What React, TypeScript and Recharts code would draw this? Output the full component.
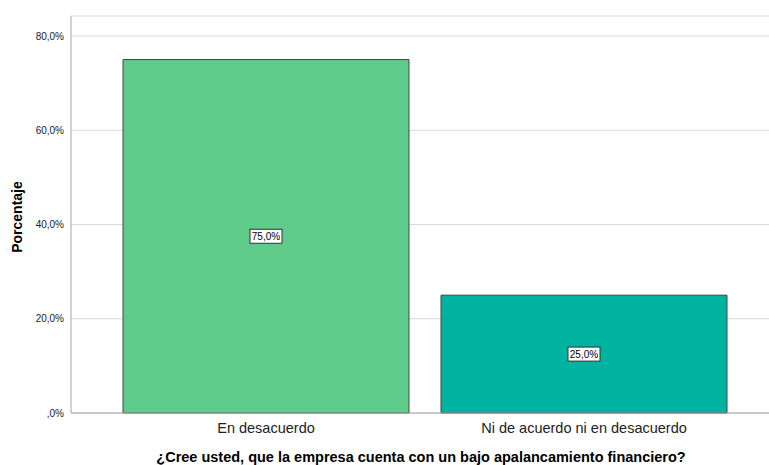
import React from 'react';
import { BarChart, Bar, XAxis, YAxis, CartesianGrid, LabelList, Cell } from 'recharts';

const categories = ['En desacuerdo', 'Ni de acuerdo ni en desacuerdo'];
const percentages = [75.0, 25.0];
const barColors = ['#5ecb8b', '#00b3a0'];
const yTicks = [0, 20, 40, 60, 80];
const yAxisTitle = 'Porcentaje';
const xAxisTitle = '¿Cree usted, que la empresa cuenta con un bajo apalancamiento financiero?';

const data = categories.map((c, i) => ({ name: c, value: percentages[i] }));

const fmt = (v: number) => {
  const s = v.toFixed(1).replace('.', ',');
  return (s.startsWith('0,') ? s.slice(1) : s) + '%';
};

const FONT = '"Liberation Sans", Arial, sans-serif';

const BarValueLabel = (props: any) => {
  const { x, y, width, height, value } = props;
  const cx = x + width / 2;
  const cy = y + height / 2;
  const text = fmt(value);
  const w = text.length * 5.6 + 4;
  const h = 14;
  return (
    <g>
      <rect x={cx - w / 2} y={cy - h / 2} width={w} height={h} fill="#ffffff" stroke="#333333" strokeWidth={1} />
      <text x={cx} y={cy + 3.5} textAnchor="middle" fontSize={10} fontFamily={FONT} fill="#000">{text}</text>
    </g>
  );
};

export default function App() {
  return (
    <div style={{ position: 'absolute', left: 0, top: 0, width: 769, height: 465, background: '#fff' }}>
      <BarChart
        width={769}
        height={465}
        data={data}
        margin={{ top: 16, right: 0, left: 0, bottom: 0 }}
        barCategoryGap={16}
      >
        <CartesianGrid vertical={false} stroke="#d9d9d9" />
        <XAxis
          dataKey="name"
          height={52}
          padding={{ left: 36, right: 26 }}
          tickLine={false}
          tickSize={0}
          tickMargin={10}
          stroke="#a6a6a6"
          tick={{ fontSize: 14.5, fill: '#222', fontFamily: FONT }}
          label={{
            content: () => (
              <text x={421} y={462} textAnchor="middle" fontSize={14.5} fontWeight="bold" fontFamily={FONT} fill="#000">
                {xAxisTitle}
              </text>
            ),
          }}
        />
        <YAxis
          width={71}
          domain={[0, 84.24]}
          ticks={yTicks}
          tickFormatter={fmt}
          tickLine={false}
          tickSize={0}
          tickMargin={7}
          stroke="#a6a6a6"
          tick={{ fontSize: 10, fill: '#222', fontFamily: FONT }}
          label={{
            content: () => (
              <text x={22} y={217} transform="rotate(-90 22 217)" textAnchor="middle" fontSize={14} fontWeight="bold" fontFamily={FONT} fill="#000">
                {yAxisTitle}
              </text>
            ),
          }}
        />
        <Bar dataKey="value" stroke="#444444" strokeWidth={1} isAnimationActive={false}>
          {data.map((d, i) => (
            <Cell key={d.name} fill={barColors[i]} />
          ))}
          <LabelList dataKey="value" content={BarValueLabel} />
        </Bar>
      </BarChart>
    </div>
  );
}
